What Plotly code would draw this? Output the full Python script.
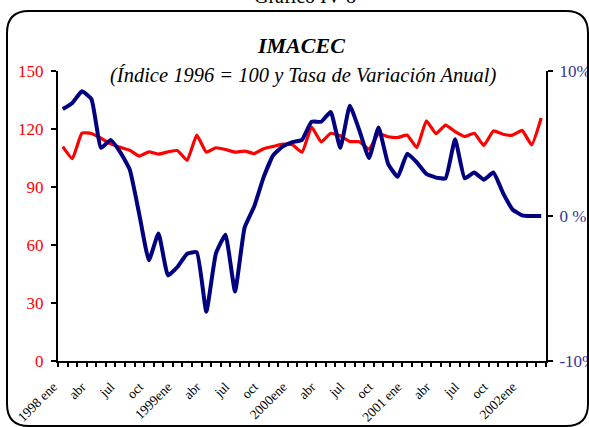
import plotly.graph_objects as go

# ---------------- data ----------------
meses = ["ene", "feb", "mar", "abr", "may", "jun", "jul", "ago", "sep", "oct", "nov", "dic"]
anios = [1998, 1999, 2000, 2001, 2002]

# IMACEC index (1996 = 100), Jan 1998 - Mar 2002
imacec = [110.9, 104.7, 117.9, 117.7, 115.2, 112.3, 110.5, 109.0, 106.0, 108.2,
          107.0, 108.2, 108.8, 103.8, 116.8, 108.0, 110.3, 109.4, 108.0, 108.6,
          107.3, 109.8, 111.0, 112.2, 111.8, 108.0, 121.0, 113.3, 117.8, 116.5,
          113.5, 113.4, 109.5, 117.5, 116.0, 115.6, 116.8, 110.4, 124.2, 117.6,
          122.0, 118.7, 116.1, 117.8, 111.5, 119.0, 117.3, 116.8, 119.3, 111.8,
          125.7]

# annual rate of change (%)
variacion = [7.38, 7.8, 8.6, 8.05, 4.7, 5.25, 4.4, 3.2, 0.1, -3.05,
             -1.2, -4.1, -3.5, -2.6, -2.5, -6.6, -2.6, -1.3, -5.2, -0.8,
             0.65, 2.7, 4.2, 4.8, 5.1, 5.25, 6.5, 6.5, 7.17, 4.7,
             7.6, 5.9, 4.0, 6.1, 3.6, 2.7, 4.3, 3.7, 2.9, 2.65,
             2.6, 5.3, 2.6, 3.0, 2.5, 3.0, 1.6, 0.45, 0.05, 0.0,
             0.0]

etiquetas = ["1998 ene", "abr", "jul", "oct", "1999ene", "abr", "jul", "oct",
             "2000ene", "abr", "jul", "oct", "2001 ene", "abr", "jul", "oct", "2002ene"]

ticks_izq = [0, 30, 60, 90, 120, 150]
ticks_der = [-10, 0, 10]
ticks_der_txt = ["-10%", "0 %", "10%"]

# ---------------- build ----------------
periodos = [f"{m} {a}" for a in anios for m in meses][:len(imacec)]
x = list(range(len(periodos)))
pos_etiquetas = list(range(0, len(periodos), 3))
texto_etiquetas = [t + "\u00a0" * 4 for t in etiquetas]
bordes = [i - 0.5 for i in range(len(periodos) + 1)]
rx = [-0.5, len(periodos) - 0.5]

W, H = 589, 427
ML, MR, MT, MB = 58, 43, 71, 66
PW, PH = W - ML - MR, H - MT - MB


def X(px):
    return (px - ML) / PW


def Y(py):
    return (H - MB - py) / PH


serif = "Liberation Serif, Times New Roman, serif"

fig = go.Figure()
fig.add_trace(go.Scatter(x=x, y=imacec, customdata=periodos, mode="lines",
                         line=dict(color="#FF0000", width=3.2, shape="spline", smoothing=0.4),
                         xaxis="x", yaxis="y", name="IMACEC",
                         hovertemplate="%{customdata}: %{y}<extra></extra>"))
fig.add_trace(go.Scatter(x=x, y=variacion, customdata=periodos, mode="lines",
                         line=dict(color="#000080", width=4, shape="spline", smoothing=0.4),
                         xaxis="x", yaxis="y2", name="Variación anual",
                         hovertemplate="%{customdata}: %{y}%<extra></extra>"))

common = dict(showgrid=False, zeroline=False, automargin=False)

fig.update_layout(
    width=W, height=H,
    margin=dict(l=ML, r=MR, t=MT, b=MB, autoexpand=False),
    paper_bgcolor="white", plot_bgcolor="white",
    showlegend=False,
    xaxis=dict(range=rx, tickmode="array", tickvals=pos_etiquetas, ticktext=texto_etiquetas,
               ticks="", tickangle=-45, ticklabelstandoff=1,
               tickfont=dict(family=serif, size=13.5, color="black"),
               showline=True, linecolor="black", linewidth=2,
               minor=dict(tickmode="array", tickvals=bordes, ticks="outside",
                          ticklen=4, tickwidth=1.5, tickcolor="black", showgrid=False),
               **common),
    xaxis3=dict(overlaying="x", anchor="y", side="bottom", range=rx,
                tickmode="array", tickvals=bordes, ticks="inside", ticklen=4,
                tickwidth=1.5, tickcolor="black", showticklabels=False,
                showline=False, **common),
    yaxis=dict(range=[0, 150], tickmode="array", tickvals=ticks_izq,
               ticks="outside", ticklen=5, tickwidth=1.5, tickcolor="black",
               ticklabelstandoff=4,
               tickfont=dict(family=serif, size=17, color="#FF0000"),
               showline=True, linecolor="black", linewidth=2, **common),
    yaxis3=dict(overlaying="y", anchor="x", side="left", range=[0, 150],
                tickmode="array", tickvals=ticks_izq, ticks="inside", ticklen=5,
                tickwidth=1.5, tickcolor="black", showticklabels=False,
                showline=False, **common),
    yaxis2=dict(overlaying="y", anchor="x", side="right", range=[-10, 10],
                tickmode="array", tickvals=ticks_der, ticktext=ticks_der_txt,
                ticks="outside", ticklen=5, tickwidth=1.5, tickcolor="black",
                ticklabelstandoff=3,
                tickfont=dict(family=serif, size=17, color="#333399"),
                showline=True, linecolor="black", linewidth=2, **common),
    yaxis4=dict(overlaying="y", anchor="x", side="right", range=[-10, 10],
                tickmode="array", tickvals=ticks_der, ticks="inside", ticklen=5,
                tickwidth=1.5, tickcolor="black", showticklabels=False,
                showline=False, **common),
)

fig.add_annotation(x=X(301), y=Y(45), xref="paper", yref="paper", showarrow=False,
                   text="<b><i>IMACEC</i></b>", xanchor="center", yanchor="middle",
                   font=dict(family=serif, size=22, color="black"))
fig.add_annotation(x=X(303), y=Y(75), xref="paper", yref="paper", showarrow=False,
                   text="<i>(Índice 1996 = 100 y Tasa de Variación Anual)</i>",
                   xanchor="center", yanchor="middle",
                   font=dict(family=serif, size=20.5, color="black"))
fig.add_annotation(x=X(305), y=Y(-4), xref="paper", yref="paper", showarrow=False,
                   text="Gráfico IV-8", xanchor="center", yanchor="middle",
                   font=dict(family=serif, size=20, color="black"))

# rounded frame
x0, x1, y0, y1, r = 7, 588, 11, 426, 22
path = (f"M {X(x0 + r)},{Y(y0)} L {X(x1 - r)},{Y(y0)} "
        f"Q {X(x1)},{Y(y0)} {X(x1)},{Y(y0 + r)} L {X(x1)},{Y(y1 - r)} "
        f"Q {X(x1)},{Y(y1)} {X(x1 - r)},{Y(y1)} L {X(x0 + r)},{Y(y1)} "
        f"Q {X(x0)},{Y(y1)} {X(x0)},{Y(y1 - r)} L {X(x0)},{Y(y0 + r)} "
        f"Q {X(x0)},{Y(y0)} {X(x0 + r)},{Y(y0)} Z")
fig.add_shape(type="path", path=path, xref="paper", yref="paper",
              line=dict(color="black", width=2), layer="above")

fig.write_html("out.html", config={"displayModeBar": False},
               post_script="document.body.style.margin='0';document.body.style.padding='0';")
